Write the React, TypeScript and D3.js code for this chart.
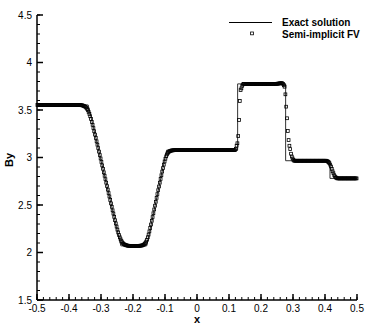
import React from 'react'
import * as d3 from 'd3'

// exact Riemann solution (piecewise linear)
const exactX = [-0.5, -0.34, -0.238, -0.157, -0.095, 0.127, 0.127, 0.277, 0.277, 0.4156, 0.4156, 0.5]
const exactBy = [3.553, 3.553, 2.07, 2.07, 3.077, 3.077, 3.775, 3.775, 2.966, 2.966, 2.78, 2.78]

// semi-implicit FV, 400 cells on [-0.5, 0.5]
const rep = (v: number, n: number) => Array(n).fill(v)
const fvBy: number[] = [
    ...rep(3.553, 54),
    3.551, 3.55, 3.549, 3.546, 3.543, 3.539, 3.533, 3.525, 3.513, 3.499,
    3.48, 3.459, 3.434, 3.406, 3.375, 3.344, 3.31, 3.276, 3.241, 3.206,
    3.17, 3.135, 3.099, 3.062, 3.026, 2.99, 2.953, 2.917, 2.881, 2.844,
    2.808, 2.772, 2.735, 2.699, 2.662, 2.626, 2.59, 2.553, 2.517, 2.481,
    2.444, 2.41, 2.375, 2.34, 2.306, 2.273, 2.241, 2.211, 2.184, 2.16,
    2.139, 2.121, 2.107, 2.097, 2.089, 2.083, 2.079, 2.076, 2.074, 2.072,
    2.071,
    ...rep(2.07, 13),
    2.071, 2.072, 2.073, 2.075, 2.078, 2.082, 2.09, 2.1, 2.115, 2.135,
    2.16, 2.189, 2.222, 2.258, 2.295, 2.334, 2.373, 2.413, 2.453, 2.493,
    2.534, 2.575, 2.615, 2.656, 2.695, 2.735, 2.774, 2.813, 2.852, 2.889,
    2.925, 2.958, 2.987, 3.012, 3.032, 3.047, 3.057, 3.065, 3.069, 3.072,
    3.074, 3.075, 3.076,
    ...rep(3.077, 77),
    3.09, 3.125, 3.15, 3.226, 3.395, 3.595, 3.71, 3.728, 3.755, 3.77,
    ...rep(3.775, 42),
    3.777, 3.778, 3.779, 3.78, 3.781, 3.782, 3.782,
    3.775, 3.76, 3.745, 3.665, 3.535, 3.413, 3.279, 3.184, 3.124, 3.089,
    3.04, 3.01, 2.99, 2.975,
    ...rep(2.966, 41),
    2.963, 2.958, 2.95, 2.94, 2.925, 2.905, 2.88, 2.855, 2.835, 2.815,
    2.8, 2.79, 2.785,
    ...rep(2.78, 25),
]

const xTicks = [-0.5, -0.4, -0.3, -0.2, -0.1, 0, 0.1, 0.2, 0.3, 0.4, 0.5]
const yTicks = [1.5, 2, 2.5, 3, 3.5, 4, 4.5]
const legendLabels = ['Exact solution', 'Semi-implicit FV']

const W = 374
const H = 332
const font = '"Liberation Sans", Arial, Helvetica, sans-serif'

const App = () => {
    const x = d3.scaleLinear().domain([-0.5, 0.5]).range([37, 357])
    const y = d3.scaleLinear().domain([1.5, 4.5]).range([300, 15])
    const n = fvBy.length
    const fvX = fvBy.map((_, i) => -0.5 + (i + 0.5) / n)

    const line = d3.line<number>()
        .x((_, i) => x(exactX[i]))
        .y(d => y(d))

    const xMinor = d3.range(-0.5, 0.5001, 0.02)
    const yMinor = d3.range(1.5, 4.5001, 0.1)
    const fmt = (v: number) => (v === 0 ? '0' : String(+v.toFixed(1)))

    return (
        <div style={{ position: 'absolute', left: 0, top: 0 }}>
            <svg width={W} height={H} style={{ display: 'block', background: '#fff' }}>
                <path d={line(exactBy) ?? ''} fill="none" stroke="#333" strokeWidth={1} />
                {fvBy.map((v, i) => (
                    <rect key={i} x={x(fvX[i]) - 1.4} y={y(v) - 1.4} width={2.8} height={2.8}
                        fill="none" stroke="#000" strokeWidth={0.8} />
                ))}

                {/* axes */}
                <line x1={x(-0.5)} x2={x(0.5)} y1={y(1.5)} y2={y(1.5)} stroke="#000" strokeWidth={1.5} />
                <line x1={x(-0.5)} x2={x(-0.5)} y1={y(1.5)} y2={y(4.5)} stroke="#000" strokeWidth={1.5} />
                {xMinor.map((t, i) => (
                    <line key={'xm' + i} x1={x(t)} x2={x(t)} y1={300} y2={297} stroke="#000" strokeWidth={1} />
                ))}
                {yMinor.map((t, i) => (
                    <line key={'ym' + i} x1={37} x2={40} y1={y(t)} y2={y(t)} stroke="#000" strokeWidth={1} />
                ))}
                {xTicks.map(t => (
                    <g key={'x' + t}>
                        <line x1={x(t)} x2={x(t)} y1={300} y2={294} stroke="#000" strokeWidth={1.5} />
                        <text x={x(t)} y={312} fontSize={10} fontFamily={font} textAnchor="middle">{fmt(t)}</text>
                    </g>
                ))}
                {yTicks.map(t => (
                    <g key={'y' + t}>
                        <line x1={37} x2={43} y1={y(t)} y2={y(t)} stroke="#000" strokeWidth={1.5} />
                        <text x={32} y={y(t) + 3.5} fontSize={10} fontFamily={font} textAnchor="end">{fmt(t)}</text>
                    </g>
                ))}
                <text x={197} y={323} fontSize={11} fontWeight="bold" fontFamily={font} textAnchor="middle">x</text>
                <text transform="translate(13,160) rotate(-90)" fontSize={11} fontWeight="bold" fontFamily={font} textAnchor="middle">By</text>

                {/* legend */}
                <line x1={229} x2={272} y1={22.5} y2={22.5} stroke="#000" strokeWidth={1} />
                <rect x={250.6} y={32} width={2.8} height={2.8} fill="none" stroke="#000" strokeWidth={0.8} />
                <text x={282} y={26} fontSize={10} fontWeight="bold" fontFamily={font}>{legendLabels[0]}</text>
                <text x={282} y={37.5} fontSize={10} fontWeight="bold" fontFamily={font}>{legendLabels[1]}</text>
            </svg>
        </div>
    )
}

export default App
